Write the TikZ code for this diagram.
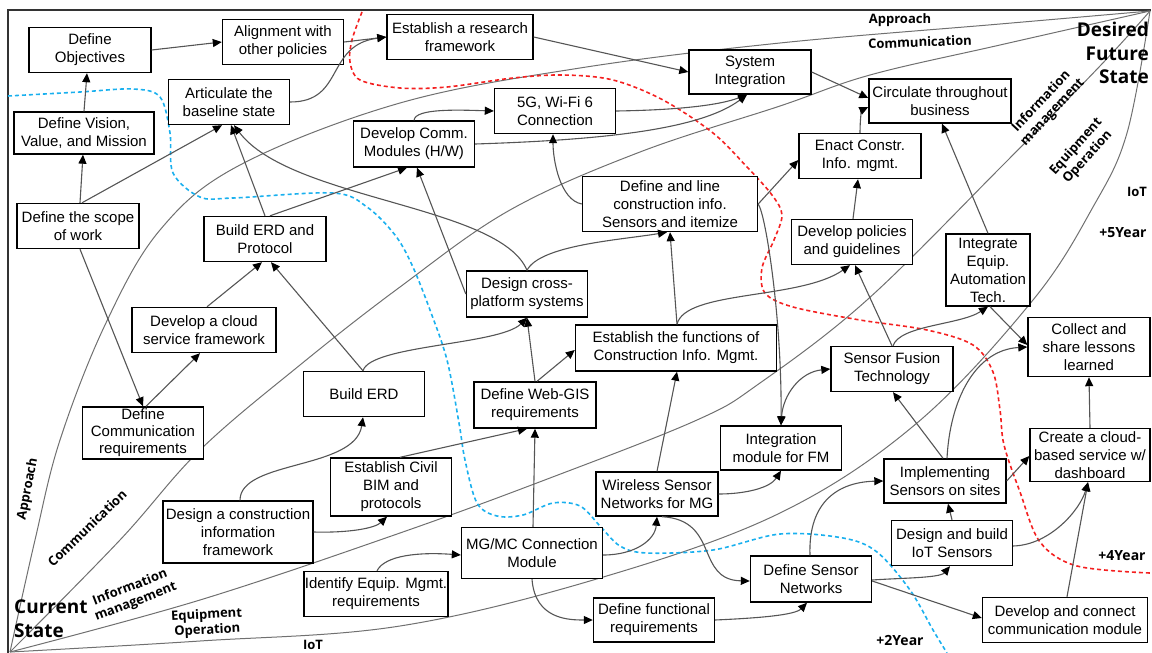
\documentclass[tikz,border=0pt]{standalone}
\usepackage{fontspec}
\setmainfont{Liberation Sans}
\newfontfamily\lblfont{Open Sans}
\usetikzlibrary{arrows.meta,backgrounds}
\definecolor{conn}{HTML}{555555}
\definecolor{fanc}{HTML}{707070}
\definecolor{blued}{HTML}{1AB0EE}
\definecolor{redd}{HTML}{F42020}
\begin{document}
\begin{tikzpicture}[x=1pt,y=-1pt,
  box/.style={draw=black, line width=1.4pt, fill=white, align=center, inner sep=0pt, font=\fontsize{15}{18}\selectfont},
  sz/.style 2 args={minimum width=#1pt, minimum height=#2pt},
  arr/.style={draw=conn, line width=1.1pt, -{Triangle[length=9pt,width=8pt,color=black]}},
  darr/.style={draw=conn, line width=1.1pt, {Triangle[length=9pt,width=8pt,color=black]}-{Triangle[length=9pt,width=8pt,color=black]}},
  fan/.style={draw=fanc, line width=1pt},
  bdash/.style={draw=blued, line width=1.6pt, dash pattern=on 4pt off 3pt},
  rdash/.style={draw=redd, line width=1.6pt, dash pattern=on 4pt off 3pt},
  lbl/.style={inner sep=0pt, font=\lblfont\bfseries\fontsize{13}{15.5}\selectfont},
  yr/.style={inner sep=0pt, font=\lblfont\bfseries\fontsize{14}{16}\selectfont},
  big/.style={inner sep=0pt, font=\lblfont\bfseries\fontsize{19}{23.5}\selectfont}
]
\useasboundingbox (0,0) rectangle (1152,653);

% ---------- boxes ----------
\node[box,sz={122}{45}] (obj) at (90,50) {Define\\Objectives};
\node[box,sz={121}{45}] (alig) at (283,42) {Alignment with\\other policies};
\node[box,sz={121}{45}] (artic) at (229,102) {Articulate the\\baseline state};
\node[box,sz={140}{42}] (vision) at (84,133) {Define Vision,\\Value, and Mission};
\node[box,sz={122}{45}] (scope) at (78,226) {Define the scope\\of work};
\node[box,sz={146}{45}] (research) at (460,37) {Establish a research\\framework};
\node[box,sz={122}{44}] (sysint) at (750,72) {System\\Integration};
\node[box,sz={121}{45}] (fiveg) at (555,111) {5G, Wi-Fi 6\\Connection};
\node[box,sz={121}{46}] (comm) at (414,144) {Develop Comm.\\Modules (H/W)};
\node[box,sz={175}{55}] (defline) at (670,204) {Define and line\\construction info.\\Sensors and itemize};
\node[box,sz={142}{44}] (circ) at (940,101) {Circulate throughout\\business};
\node[box,sz={122}{45}] (enact) at (860,156) {Enact Constr.\\Info. mgmt.};
\node[box,sz={121}{45}] (policies) at (852,242) {Develop policies\\and guidelines};
\node[box,sz={84}{72}] (integ) at (988,270) {Integrate\\Equip.\\Automation\\Tech.};
\node[box,sz={122}{59}] (collect) at (1089,347) {Collect and\\share lessons\\learned};
\node[box,sz={122}{45}] (fusion) at (892,369) {Sensor Fusion\\Technology};
\node[box,sz={122}{45}] (erdp) at (265,239) {Build ERD and\\Protocol};
\node[box,sz={144}{45}] (cloud) at (204,330) {Develop a cloud\\service framework};
\node[box,sz={121}{45}] (erd) at (364,394) {Build ERD};
\node[box,sz={121}{52},font=\fontsize{15}{17}\selectfont] (defcomm) at (143,433) {Define\\Communication\\requirements};
\node[box,sz={121}{46}] (cross) at (527,294) {Design cross-\\platform systems};
\node[box,sz={201}{46}] (funcs) at (676,348) {Establish the functions of\\Construction Info. Mgmt.};
\node[box,sz={122}{46}] (webgis) at (535,405) {Define Web-GIS\\requirements};
\node[box,sz={121}{44}] (fm) at (781,448) {Integration\\module for FM};
\node[box,sz={150}{62}] (dcif) at (238,532) {Design a construction\\information\\framework};
\node[box,sz={121}{58}] (bim) at (391,487) {Establish Civil\\BIM and\\protocols};
\node[box,sz={144}{45}] (equipm) at (376,594) {Identify Equip. Mgmt.\\requirements};
\node[box,sz={141}{51}] (mgmc) at (532,553) {MG/MC Connection\\Module};
\node[box,sz={122}{44}] (wsn) at (657,494) {Wireless Sensor\\Networks for MG};
\node[box,sz={121}{44}] (funcreq) at (654,620) {Define functional\\requirements};
\node[box,sz={121}{46}] (dsn) at (811,579) {Define Sensor\\Networks};
\node[box,sz={122}{44}] (impl) at (945,481) {Implementing\\Sensors on sites};
\node[box,sz={121}{45}] (iot) at (952,543) {Design and build\\IoT Sensors};
\node[box,sz={120}{53}] (cloudsvc) at (1090,455) {Create a cloud-\\based service w/\\dashboard};
\node[box,sz={165}{45}] (devconn) at (1065,620) {Develop and connect\\communication module};

% ---------- background: frame, fan, year curves ----------
\begin{pgfonlayer}{background}
\draw[draw=black!80, line width=1.4pt] (8,653) -- (8,10) -- (1151,10);
\draw[fan] plot[smooth, tension=0.6] coordinates {(10,652) (35,540) (60,440) (105,325) (160,230) (240,165) (400,103) (580,68) (780,43) (1000,24) (1150,11)};
\draw[fan] plot[smooth, tension=0.6] coordinates {(10,652) (120,540) (200,450) (300,365) (400,287) (510,210) (640,152) (780,106) (870,75) (1000,45) (1150,11)};
\draw[fan] plot[smooth, tension=0.6] coordinates {(10,652) (200,600) (400,533) (550,478) (697,420) (760,383) (867,300) (1000,168) (1100,66) (1150,11)};
\draw[fan] plot[smooth, tension=0.6] coordinates {(10,652) (200,641) (400,626) (600,578) (780,513) (917,423) (1033,300) (1093,207) (1127,133) (1150,11)};
\draw[bdash] plot[smooth, tension=0.55] coordinates {(8,96) (80,92) (133,89) (160,97) (170,133) (173,173) (200,197) (233,198) (333,193) (367,207) (395,235) (412,265) (430,310) (447,360) (459,423) (465,460) (477,503) (497,516) (523,515) (553,503) (580,506) (600,526) (620,546) (647,553) (713,550) (780,534) (843,538) (877,552) (910,590) (933,630) (947,653)};
\draw[rdash] plot[smooth, tension=0.55] coordinates {(362,12) (352,40) (350,62) (360,80) (400,88) (447,87) (513,78) (563,75) (613,80) (663,100) (713,133) (747,167) (772,195) (782,215) (774,240) (762,268) (765,293) (793,307) (860,320) (927,330) (973,345) (993,372) (1000,410) (1004,445) (1020,492) (1040,542) (1077,566) (1150,573)};
\end{pgfonlayer}

% ---------- connectors ----------
\draw[arr] (obj.east) -- (alig.west);
\draw[arr] (alig.east) -- (research.west);
\draw[arr] (artic.east) .. controls (345,102) and (325,45) .. (research.west);
\draw[arr] (vision.north) -- ([xshift=-3pt]obj.south);
\draw[arr] ([xshift=2pt]scope.north) -- ([xshift=-1pt]vision.south);
\draw[arr] ([xshift=4pt]scope.north) -- ([xshift=-7pt]artic.south);
\draw[arr] (erdp.north) -- ([xshift=2pt]artic.south);
\draw[arr] (cross.north) .. controls (500,205) and (290,200) .. ([xshift=5pt]artic.south);
\draw[arr] (cross.north) .. controls (540,245) and (620,240) .. ([xshift=-3pt]defline.south);
\draw[arr] (cross.west) -- ([xshift=3pt]comm.south);
\draw[arr] ([xshift=5pt]erdp.north) -- ([xshift=-7pt]comm.south);
\draw[arr] (comm.north) .. controls (415,108) and (460,110) .. (fiveg.west);
\draw[arr] (comm.east) .. controls (600,140) and (700,130) .. ([xshift=-3pt]sysint.south);
\draw[arr] (fiveg.east) .. controls (680,110) and (720,105) .. ([xshift=-3pt]sysint.south);
\draw[arr] (research.east) -- (sysint.west);
\draw[arr] (defline.west) .. controls (560,200) and (553,160) .. ([xshift=-2pt]fiveg.south);
\draw[arr] (sysint.east) -- ([yshift=3pt]circ.west);
\draw[arr] (enact.north) .. controls (860,118) and (862,110) .. ([yshift=-6pt]circ.west);
\draw[arr] (defline.east) -- ([yshift=-4pt]enact.west);
\draw[arr] ([xshift=1pt]policies.north) -- ([xshift=-2pt]enact.south);
\draw[arr] (integ.north) -- ([xshift=2pt]circ.south);
\draw[arr] (defline.east) .. controls (766,215) and (782,320) .. (fm.north);
\draw[darr] (fm.north) .. controls (783,395) and (800,372) .. (fusion.west);
\draw[arr] ([xshift=1pt]funcs.north) -- (defline.south);
\draw[arr] ([xshift=1pt]funcs.north) .. controls (685,290) and (800,300) .. ([xshift=-2pt]policies.south);
\draw[arr] (webgis.north) -- (cross.south);
\draw[arr] ([xshift=2pt]webgis.north) -- ([yshift=-2pt]funcs.west);
\draw[arr] ([xshift=-1pt]erd.north) .. controls (370,345) and (500,345) .. (cross.south);
\draw[arr] ([xshift=-1pt]erd.north) -- ([xshift=6pt]erdp.south);
\draw[arr] ([xshift=3pt]cloud.north) -- ([xshift=-3pt]erdp.south);
\draw[arr] ([xshift=2pt]scope.south) -- (defcomm.north);
\draw[arr] ([xshift=3pt]defcomm.north) -- ([xshift=-4pt]cloud.south);
\draw[arr] ([xshift=2pt]dcif.north) .. controls (240,460) and (355,470) .. ([xshift=-1pt]erd.south);
\draw[arr] (dcif.east) .. controls (350,533) and (375,528) .. ([xshift=-4pt]bim.south);
\draw[arr] ([xshift=9pt]bim.north) -- ([xshift=-8pt]webgis.south);
\draw[arr] ([xshift=1pt]mgmc.north) -- (webgis.south);
\draw[arr] ([xshift=1pt]equipm.north) .. controls (385,555) and (420,552) .. ([yshift=-2pt]mgmc.west);
\draw[arr] ([yshift=-2pt]mgmc.east) .. controls (635,555) and (655,540) .. (wsn.south);
\draw[arr] (mgmc.south) .. controls (535,620) and (570,620) .. (funcreq.west);
\draw[arr] (wsn.north) -- ([xshift=1pt]funcs.south);
\draw[arr] (wsn.east) .. controls (745,494) and (770,488) .. (fm.south);
\draw[arr] ([xshift=5pt]wsn.south) .. controls (720,520) and (695,580) .. ([yshift=-2pt]dsn.west);
\draw[arr] (funcreq.east) .. controls (760,618) and (795,615) .. ([xshift=-4pt]dsn.south);
\draw[arr] ([xshift=-1pt]dsn.north) .. controls (808,500) and (840,482) .. (impl.west);
\draw[arr] ([yshift=-1pt]dsn.east) .. controls (900,578) and (940,578) .. ([xshift=-2pt]iot.south);
\draw[arr] ([yshift=-2pt]dsn.east) -- ([yshift=2pt]devconn.west);
\draw[arr] (iot.north) -- ([xshift=3pt]impl.south);
\draw[arr] ([yshift=-3pt]iot.east) .. controls (1050,545) and (1080,510) .. ([xshift=-2pt]cloudsvc.south);
\draw[arr] ([xshift=2pt]devconn.north) -- ([xshift=-2pt]cloudsvc.south);
\draw[arr] (impl.east) -- ([yshift=-1pt]cloudsvc.west);
\draw[arr] (cloudsvc.north) -- (collect.south);
\draw[arr] ([xshift=-2pt]impl.north) -- ([xshift=1pt]fusion.south);
\draw[arr] ([xshift=2pt]impl.north) .. controls (950,400) and (975,350) .. (collect.west);
\draw[arr] ([xshift=2pt]integ.south) -- ([yshift=2pt]collect.west);
\draw[arr] ([xshift=1pt]fusion.north) .. controls (900,325) and (960,325) .. (integ.south);
\draw[arr] (fusion.north) -- ([xshift=3pt]policies.south);

% ---------- labels ----------
\node[lbl] (tA) at (900,20) {Approach};
\node[lbl, rotate=2] (tC) at (920,42) {Communication};
\node[lbl, rotate=47, align=center] (tI) at (1047,107) {Information\\management};
\node[lbl, rotate=48, align=center] (tE) at (1082,152) {Equipment\\Operation};
\node[lbl] (tT) at (1137,192) {IoT};
\node[yr] (y5) at (1123,233) {+5Year};
\node[yr] (y4) at (1122,556) {+4Year};
\node[yr] (y2) at (900,640) {+2Year};
\node[big, anchor=north east, align=right] (dfs) at (1149,22) {Desired\\Future\\State};
\node[big, anchor=north west, align=left] (cs) at (14,600) {Current\\State};
\node[lbl, rotate=79] (lA) at (28,489) {Approach};
\node[lbl, rotate=44] (lC) at (87,528) {Communication};
\node[lbl, rotate=21, align=center] (lI) at (133,595) {Information\\management};
\node[lbl, rotate=3, align=center] (lE) at (207,623) {Equipment\\Operation};
\node[lbl] (lT) at (313,645) {IoT};
\end{tikzpicture}
\end{document}
